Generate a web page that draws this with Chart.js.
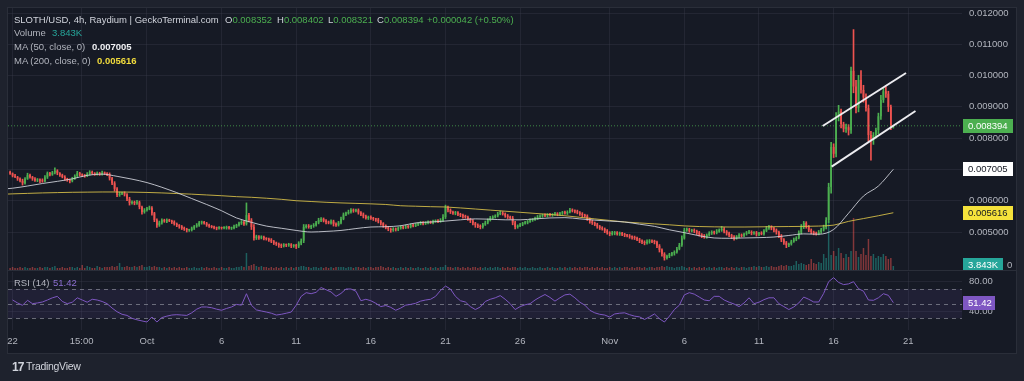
<!DOCTYPE html>
<html><head><meta charset="utf-8">
<script src="https://cdn.jsdelivr.net/npm/chart.js@4.4.1/dist/chart.umd.min.js"></script>
<style>
html,body{margin:0;padding:0;background:#1e222d;width:1024px;height:381px;overflow:hidden}
#pane{position:absolute;left:7px;top:7px;width:1010px;height:347px;box-sizing:border-box;background:#161a25;border:1px solid #2a2e39}
#sep{position:absolute;left:8px;top:270px;width:1008px;height:1px;background:#2a2e39}
canvas{position:absolute;left:0}
.t{position:absolute;font:9.5px "Liberation Sans",Arial,sans-serif;color:#b2b5be;white-space:nowrap;line-height:12px}
.w{color:#d1d4dc}
.g{color:#4caf50}
.tl{color:#26a69a}
.b{color:#f0f1f4;font-weight:bold}
.y{color:#f2dc3c;font-weight:bold}
.p{color:#8c6fd1}
#logo{position:absolute;left:12px;top:360px;font:bold 12px "Liberation Sans",Arial,sans-serif;color:#d1d4dc;letter-spacing:-1px}
#logot{position:absolute;left:26px;top:360px;font:10.5px "Liberation Sans",Arial,sans-serif;color:#d1d4dc;letter-spacing:-0.3px}
</style></head><body>
<div id="pane"></div>
<div id="sep"></div>
<canvas id="main" width="1024" height="270" style="top:0"></canvas>
<canvas id="rsi" width="1024" height="84" style="top:270px"></canvas>

<div class="t w" style="left:14px;top:14px">SLOTH/USD, 4h, Raydium | GeckoTerminal.com</div>
<div class="t w" style="left:225px;top:14px">O<span class="g">0.008352</span></div>
<div class="t w" style="left:277px;top:14px">H<span class="g">0.008402</span></div>
<div class="t w" style="left:328px;top:14px">L<span class="g">0.008321</span></div>
<div class="t w" style="left:377px;top:14px">C<span class="g">0.008394</span></div>
<div class="t g" style="left:427px;top:14px">+0.000042 (+0.50%)</div>
<div class="t" style="left:14px;top:27px">Volume</div>
<div class="t tl" style="left:52px;top:27px">3.843K</div>
<div class="t" style="left:14px;top:41px">MA (50, close, 0)</div>
<div class="t b" style="left:92px;top:41px">0.007005</div>
<div class="t" style="left:14px;top:55px">MA (200, close, 0)</div>
<div class="t y" style="left:97px;top:55px">0.005616</div>
<div class="t" style="left:14px;top:277px">RSI (14)</div>
<div class="t p" style="left:53px;top:277px">51.42</div>
<div id="logo">17</div>
<div id="logot">TradingView</div>

<script>
// prices in millionths of USD (µUSD), one candle every 4h, candle index 0 = Sep 21 20:00
const FIRST_OPEN = 6920;
const closes = [
6870,6800,6760,6700,6640,6560,6700,6820,6760,6700,
6650,6680,6640,6620,6750,6880,6840,6900,6960,6880,
6820,6760,6700,6660,6630,6700,6790,6880,6840,6800,
6790,6850,6920,6880,6840,6880,6850,6900,6870,6850,
6720,6560,6380,6180,6220,6245,6200,6060,5930,5960,
5920,5950,5800,5640,5700,5750,5770,5600,5380,5220,
5300,5380,5340,5380,5360,5320,5260,5220,5180,5120,
5100,5060,5060,5120,5180,5220,5300,5320,5280,5220,
5190,5160,5140,5120,5140,5130,5130,5160,5120,5130,
5180,5220,5280,5320,5260,5540,5380,5160,4810,4860,
4820,4840,4800,4780,4750,4700,4660,4620,4580,4560,
4600,4580,4600,4560,4580,4540,4640,4720,5160,5200,
5160,5190,5220,5300,5380,5420,5360,5320,5300,5340,
5260,5220,5300,5420,5560,5600,5640,5700,5680,5700,
5620,5560,5500,5450,5480,5440,5420,5400,5340,5280,
5200,5140,5100,5060,5100,5080,5120,5160,5140,5180,
5160,5220,5200,5240,5260,5290,5270,5300,5320,5300,
5340,5360,5340,5380,5480,5780,5700,5640,5600,5620,
5560,5540,5500,5480,5420,5360,5280,5220,5180,5160,
5240,5300,5380,5450,5480,5520,5580,5610,5580,5520,
5480,5450,5300,5160,5200,5240,5280,5300,5340,5380,
5400,5440,5480,5510,5540,5520,5560,5540,5560,5580,
5560,5600,5620,5600,5640,5700,5680,5660,5620,5580,
5540,5510,5420,5340,5290,5240,5180,5130,5100,5040,
4980,4940,4960,4980,4940,4960,4920,4900,4880,4850,
4830,4810,4760,4720,4680,4650,4690,4720,4700,4680,
4560,4430,4300,4170,4230,4280,4320,4360,4460,4580,
4800,5060,5080,5040,5060,5030,4980,4920,4880,4840,
4900,4960,5000,4980,5020,5060,5100,5020,4960,4900,
4850,4810,4860,4900,4880,4940,4980,5000,4960,4980,
4920,4960,4940,5040,5120,5160,5120,5060,5000,4880,
4760,4660,4580,4620,4700,4760,4810,4980,5160,5290,
5180,5060,5000,4960,4940,5000,5080,5160,5380,6440,
7720,7500,8700,8850,8450,8300,8350,8250,10150,9650,
8960,9860,9540,9300,8960,8100,7950,8100,8260,8700,
9220,9500,9420,9000,8352,8394];
const wickUp = [
30,20,40,20,30,50,40,60,30,20,40,30,20,60,50,40,30,40,90,30,
20,30,40,20,30,50,40,60,30,20,40,50,40,30,20,40,30,50,20,30,
40,30,50,40,60,30,40,30,50,40,30,60,40,30,50,40,60,40,30,40,
50,40,30,40,30,20,40,30,20,30,40,20,30,40,30,50,40,30,20,30,
30,20,30,20,30,20,40,30,20,30,40,30,40,50,40,390,60,50,80,40,
30,40,30,20,30,40,30,20,30,40,30,20,40,30,20,30,50,60,80,40,
40,30,50,40,60,40,30,40,30,50,40,30,40,60,50,40,60,50,40,30,
40,30,50,40,30,40,30,20,40,30,20,30,40,30,40,30,40,50,30,40,
30,40,30,40,30,50,40,30,40,30,40,30,40,50,80,80,50,40,30,40,
30,40,30,40,30,20,40,30,40,50,40,50,40,50,40,30,50,60,40,30,
40,30,50,40,30,40,30,40,30,40,30,40,50,40,30,40,30,40,30,50,
40,30,40,50,40,60,40,30,40,30,40,30,40,30,40,30,40,30,40,30,
40,30,60,40,30,40,30,40,30,40,30,40,30,40,30,40,60,40,30,40,
30,40,30,40,30,40,30,40,50,60,80,60,50,40,30,40,30,40,30,40,
40,50,40,30,60,40,80,40,30,40,30,40,30,50,40,30,40,50,40,30,
40,30,50,40,60,50,40,30,40,30,40,30,40,30,40,50,40,60,80,50,
40,30,40,30,40,50,40,60,80,120,150,100,120,200,80,60,100,80,120,1320,
200,150,300,150,120,100,120,80,60,100,150,120,180,80,60,8];
const wickDn = [
30,40,20,50,40,60,30,20,40,50,30,40,60,30,20,40,50,30,40,50,
40,30,50,40,60,30,20,40,50,30,40,20,30,40,30,20,40,30,30,50,
60,50,70,50,40,30,50,60,70,40,50,40,60,70,40,30,40,60,50,70,
40,50,30,40,30,50,40,50,60,40,50,60,40,30,40,30,40,50,30,40,
40,30,40,50,30,40,30,40,30,40,30,40,30,40,50,40,60,80,70,50,
60,40,50,40,50,40,60,50,70,60,40,50,40,60,50,70,40,50,60,40,
40,50,40,30,40,50,40,60,40,50,70,40,30,40,30,40,30,40,50,40,
50,40,50,40,50,40,50,60,50,60,50,40,60,70,40,50,40,30,40,30,
40,30,40,30,40,30,40,30,40,30,40,30,40,30,40,50,60,50,40,50,
40,50,60,40,50,60,50,70,40,60,40,30,40,30,40,30,40,30,40,50,
50,40,70,60,40,30,40,30,40,30,40,30,40,30,40,30,40,30,40,30,
40,30,40,30,40,30,40,50,40,50,60,40,50,60,50,40,60,50,40,60,
50,60,40,50,40,50,40,50,40,50,60,50,40,60,50,60,40,50,40,60,
60,70,70,70,40,50,40,60,40,30,40,30,40,50,40,50,60,50,60,40,
40,30,40,50,40,30,40,50,60,50,60,70,40,50,40,30,40,30,50,40,
50,40,30,40,30,40,50,60,70,60,70,60,80,50,40,30,40,30,40,50,
60,50,60,50,40,30,40,50,60,80,200,120,100,150,120,100,120,150,100,200,
150,120,100,150,100,200,650,150,100,120,100,80,120,150,80,31];
// volume per candle, thousands of USD
const volumes = [
2,3,2,2,3,2,3,2,2,3,2,2,3,2,3,3,2,3,4,2,
2,3,2,2,3,3,2,3,2,5,2,4,3,2,2,4,3,2,3,3,
3,4,3,4,7,3,3,4,3,3,4,3,4,5,3,3,4,3,4,3,
3,2,3,2,3,2,3,2,3,2,2,3,2,2,3,2,2,3,2,3,
2,2,3,2,2,3,2,2,3,2,2,3,3,4,3,17,4,5,6,4,
3,4,3,3,2,3,2,3,2,3,2,3,2,3,2,3,3,4,4,3,
3,2,3,3,2,3,2,3,2,3,2,3,3,3,3,2,3,3,2,3,
3,2,3,2,3,3,2,3,3,4,3,2,3,2,3,2,2,3,2,3,
2,3,2,2,3,2,2,3,2,3,2,3,2,3,3,5,3,3,2,3,
3,2,3,2,3,2,3,3,2,3,2,3,2,3,2,3,3,2,3,2,
3,2,3,3,2,3,2,3,2,2,3,2,2,3,2,2,3,2,3,2,
2,3,2,3,2,3,2,3,2,3,2,3,3,2,3,2,3,2,3,2,
2,3,2,3,2,3,2,3,3,2,3,2,3,3,2,3,2,3,3,2,
3,3,4,3,4,3,3,2,3,3,4,3,2,3,2,3,2,3,2,3,
2,3,2,3,2,3,3,2,3,2,3,2,3,2,3,3,2,3,3,4,
3,4,3,3,4,3,4,3,3,4,5,4,5,4,4,5,9,6,7,6,
5,6,11,7,6,8,7,16,12,49,15,19,14,22,17,12,16,13,19,52,
19,13,16,22,15,31,14,16,12,14,13,16,14,11,12,4];
// RSI(14), one value every 2 candles starting at candle 1
const rsiValues = [
55,51,47.8,54.6,50,51,52.3,55,58,60,
53,50,52,58,55,52,56,55,53,50,
44,39,35.5,34,30,28,26.5,25,31.8,25,
31,33,34.5,35,34.5,34,37.5,42.5,45.5,45.5,
44.5,42.5,41,43.5,45.5,49,48,63.6,47.8,41.5,
40,38.6,37,34.5,35.5,37,38.6,48,60,65,
63.6,65.5,72,69,66,60,64,70,70,67,
54,56,54,50.5,46,47.5,45,41,44,48,
49,50.5,53.5,55,56,60,68,74,70,60,
54,52.3,46,42,45.5,53,56,58,61,56,
50,42,46,48.5,50,55,59,62.5,58.5,53.5,
58,62,63,58,52,48,41,37.5,35.5,34.5,
31.8,36,37,37.5,35,33,32,28.5,32,36,
29.5,25,33,42,48,62,65,63,59,55,
54,60,60,55,52,49.5,46,51,58,50,
52,55.5,58,58,50,46,42,45.5,51,59,
56,52.3,52.3,64,80,85.5,79,76,77,80,
70.5,67,55,54.6,58,63.6,61.4,51.42];
// moving averages, one value per day at 00:00, starting Sep 21
const MA_FIRST_DAY = -1;
const ma50 = [6360,
6400,6470,6550,6620,6700,6810,6850,6780,6690,6580,
6430,6260,6070,5880,5680,5450,5310,5190,5120,5050,
5000,5020,5050,5110,5160,5170,5200,5290,5320,5350,
5390,5420,5410,5390,5390,5420,5450,5460,5420,5380,
5350,5320,5250,5180,5070,4980,4880,4810,4800,4810,
4820,4840,4890,4940,4930,5080,5600,6150,6470,7005];
const ma200 = [6200,
6220,6235,6250,6260,6270,6275,6280,6280,6275,6265,
6250,6230,6210,6185,6160,6130,6110,6080,6045,6000,
5975,5950,5930,5915,5900,5880,5840,5825,5810,5800,
5770,5735,5700,5665,5630,5595,5560,5520,5470,5420,
5370,5320,5290,5260,5230,5195,5175,5165,5160,5160,
5165,5170,5175,5180,5190,5220,5340,5430,5520,5616];
// drawn channel, [candle index, price]
const trendUpper = [[326.6, 8389], [360.1, 10082]];
const trendLower = [[330.2, 7088], [363.9, 8868]];
const priceTicks = [5000,6000,7000,8000,9000,10000,11000,12000];
const rsiTicks = [40, 80];
const rsiLevels = [70, 50, 30];
const timeTickIdx = [1, 28.75, 55, 85, 115, 145, 175, 205, 241, 271, 301, 331, 361];
const timeLabels = ['22','15:00','Oct','6','11','16','21','26','Nov','6','11','16','21'];
const lastPrice = 8394, lastMA50 = 7005, lastMA200 = 5616, lastVol = 3.843, lastRSI = 51.42;

const X_MIN = -0.84, X_MAX = 382.6;
const UP = '#4caf50', DOWN = '#ef5350';
const GRID = 'rgba(60,64,78,0.35)';
const AXIS_TXT = '#b2b5be';
const FONT = {family:'"Liberation Sans", Arial, sans-serif', size:9.5};

const opens = closes.map((c,i) => i ? closes[i-1] : FIRST_OPEN);
const isUp = closes.map((c,i) => c >= opens[i]);
const bodies = closes.map((c,i) => ({x:i, y:[Math.min(c,opens[i]), Math.max(c,opens[i])]}));
const wicks = closes.map((c,i) => ({x:i, y:[Math.min(c,opens[i]) - wickDn[i], Math.max(c,opens[i]) + wickUp[i]]}));
const candleColors = isUp.map(u => u ? UP : DOWN);
const volBars = volumes.map((v,i) => ({x:i, y:v}));
const volColors = isUp.map(u => u ? 'rgba(38,166,154,0.5)' : 'rgba(239,83,80,0.5)');
const ma50Pts = ma50.map((v,k) => ({x:6*(k+MA_FIRST_DAY)+1, y:v}));
const ma200Pts = ma200.map((v,k) => ({x:6*(k+MA_FIRST_DAY)+1, y:v}));
const rsiPts = rsiValues.map((v,j) => ({x:2*j+1, y:v}));
const toPts = arr => arr.map(p => ({x:p[0], y:p[1]}));

// keep the plot area exactly where the layout padding puts it
const noPad = s => { s.paddingTop = 0; s.paddingBottom = 0; s.paddingLeft = 0; s.paddingRight = 0; };
const fitX = h => s => { s.height = h; noPad(s); };
const fitY = w => s => { s.width = w; noPad(s); };

function tag(ctx, x, py, w, text, bg, fg){
  ctx.save();
  ctx.fillStyle = bg;
  ctx.fillRect(x, Math.round(py-7), w, 14);
  ctx.fillStyle = fg;
  ctx.font = '9.5px "Liberation Sans", Arial, sans-serif';
  ctx.textBaseline = 'middle';
  ctx.textAlign = 'left';
  ctx.fillText(text, x+5, Math.round(py)+0.5);
  ctx.restore();
}

const mainTags = {id:'mainTags', afterDraw(chart){
  const ctx = chart.ctx, a = chart.chartArea, y = chart.scales.y, yv = chart.scales.yv;
  const x0 = a.right + 1;
  tag(ctx, x0, y.getPixelForValue(lastPrice), 50, (lastPrice*1e-6).toFixed(6), '#4caf50', '#ffffff');
  tag(ctx, x0, y.getPixelForValue(lastMA50), 50, (lastMA50*1e-6).toFixed(6), '#ffffff', '#131722');
  tag(ctx, x0, y.getPixelForValue(lastMA200), 50, (lastMA200*1e-6).toFixed(6), '#f5e23b', '#131722');
  const pv = yv.getPixelForValue(lastVol) - 1;
  tag(ctx, x0, pv, 40, lastVol.toFixed(3)+'K', '#26a69a', '#ffffff');
  ctx.save(); ctx.fillStyle = AXIS_TXT; ctx.font = '9.5px "Liberation Sans", Arial, sans-serif';
  ctx.textBaseline = 'middle'; ctx.fillText('0', x0+44, Math.round(pv)+0.5); ctx.restore();
}};

new Chart(document.getElementById('main'), {
  type:'bar',
  data:{datasets:[
    {type:'bar', data:volBars, yAxisID:'yv', backgroundColor:volColors, grouped:false, categoryPercentage:1, barPercentage:0.6, order:10},
    {type:'bar', data:wicks, backgroundColor:candleColors, grouped:false, barThickness:1, order:8},
    {type:'bar', data:bodies, backgroundColor:candleColors, grouped:false, categoryPercentage:1, barPercentage:0.7, minBarLength:1, order:7},
    {type:'line', data:ma200Pts, borderColor:'rgba(222,198,74,0.85)', borderWidth:1, pointRadius:0, cubicInterpolationMode:'monotone', order:5},
    {type:'line', data:ma50Pts, borderColor:'rgba(214,216,224,0.85)', borderWidth:1, pointRadius:0, cubicInterpolationMode:'monotone', order:4},
    {type:'line', data:[{x:X_MIN,y:lastPrice},{x:X_MAX,y:lastPrice}], borderColor:'rgba(76,175,80,0.75)', borderDash:[1,2], borderWidth:1, pointRadius:0, order:3},
    {type:'line', data:toPts(trendUpper), borderColor:'#ececf0', borderWidth:2, pointRadius:0, order:1},
    {type:'line', data:toPts(trendLower), borderColor:'#ececf0', borderWidth:2, pointRadius:0, order:1}
  ]},
  options:{
    responsive:false, animation:false, events:[],
    layout:{autoPadding:false, padding:{left:8, right:8, top:8, bottom:0}},
    plugins:{legend:{display:false}, tooltip:{enabled:false}},
    scales:{
      x:{type:'linear', min:X_MIN, max:X_MAX, offset:false,
         afterBuildTicks:s => { s.ticks = timeTickIdx.map(v => ({value:v})); },
         ticks:{display:false}, grid:{color:GRID, drawTicks:false, offset:false}, border:{display:false},
         afterFit:fitX(0)},
      y:{position:'right', min:3786, max:12160,
         afterBuildTicks:s => { s.ticks = priceTicks.map(v => ({value:v})); },
         ticks:{color:AXIS_TXT, font:FONT, padding:7, callback:v => (v*1e-6).toFixed(6)},
         grid:{color:GRID, drawTicks:false}, border:{display:false},
         afterFit:fitY(54)},
      yv:{display:false, min:0, max:262}
    }
  },
  plugins:[mainTags]
});

const rsiBand = {id:'rsiBand', beforeDatasetsDraw(chart){
  const ctx = chart.ctx, a = chart.chartArea, y = chart.scales.y;
  ctx.save();
  ctx.fillStyle = 'rgba(126,87,194,0.10)';
  const t = y.getPixelForValue(70), b = y.getPixelForValue(30);
  ctx.fillRect(a.left, t, a.right - a.left, b - t);
  ctx.setLineDash([4,4]);
  ctx.strokeStyle = 'rgba(140,143,154,0.7)';
  ctx.lineWidth = 1;
  rsiLevels.forEach(l => { const p = Math.round(y.getPixelForValue(l)) + 0.5; ctx.beginPath(); ctx.moveTo(a.left, p); ctx.lineTo(a.right, p); ctx.stroke(); });
  ctx.restore();
}, afterDraw(chart){
  const a = chart.chartArea, y = chart.scales.y;
  tag(chart.ctx, a.right + 1, y.getPixelForValue(lastRSI), 32, lastRSI.toFixed(2), '#7e57c2', '#ffffff');
}};

new Chart(document.getElementById('rsi'), {
  type:'line',
  data:{datasets:[{data:rsiPts, borderColor:'#7e57c2', borderWidth:1, pointRadius:0, tension:0}]},
  options:{
    responsive:false, animation:false, events:[],
    layout:{autoPadding:false, padding:{left:8, right:8, top:2, bottom:2}},
    plugins:{legend:{display:false}, tooltip:{enabled:false}},
    scales:{
      x:{type:'linear', min:X_MIN, max:X_MAX, offset:false,
         afterBuildTicks:s => { s.ticks = timeTickIdx.map(v => ({value:v})); },
         ticks:{color:AXIS_TXT, font:FONT, padding:6, autoSkip:false, maxRotation:0, callback:(v,i) => timeLabels[i]},
         grid:{color:GRID, drawTicks:false}, border:{display:false},
         afterFit:fitX(22)},
      y:{position:'right', min:14.1, max:93.2,
         afterBuildTicks:s => { s.ticks = rsiTicks.map(v => ({value:v})); },
         ticks:{color:AXIS_TXT, font:FONT, padding:7, callback:v => v.toFixed(2)},
         grid:{color:GRID, drawTicks:false}, border:{display:false},
         afterFit:fitY(54)}
    }
  },
  plugins:[rsiBand]
});
</script>
</body></html>
